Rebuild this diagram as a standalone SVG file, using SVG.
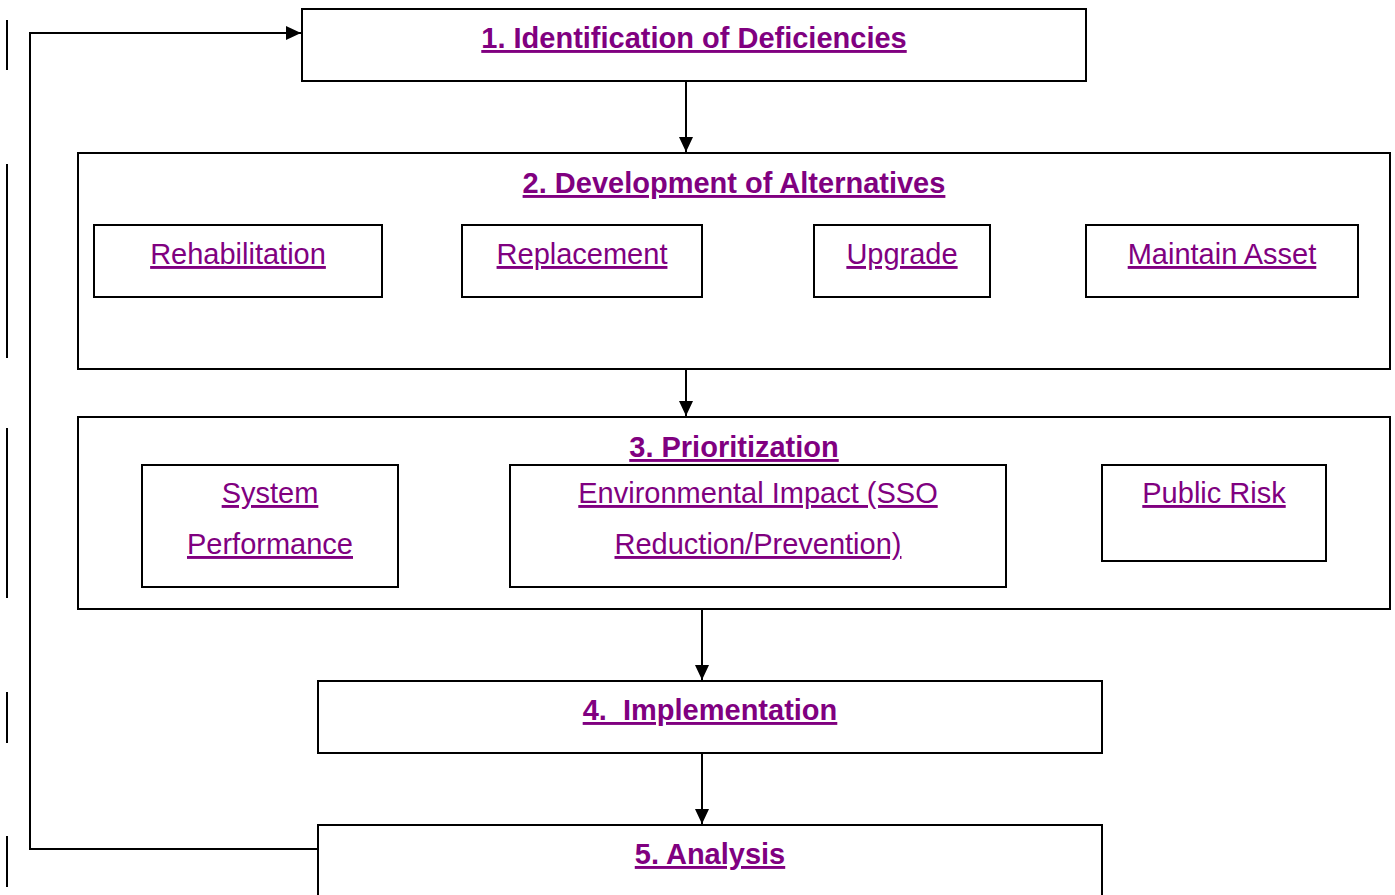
<svg xmlns="http://www.w3.org/2000/svg" width="1395" height="895" viewBox="0 0 1395 895">
<style>
.box{fill:#fff;stroke:#000;stroke-width:2}
.t{font-family:"Liberation Sans",Arial,sans-serif;font-size:29px;fill:#800080;text-decoration:underline;text-anchor:middle;white-space:pre}
.b{font-weight:bold}
.c{fill:none;stroke:#000;stroke-width:2}
.bar{stroke:#000;stroke-width:2}
</style>
<defs>
<marker id="ah" viewBox="0 0 15 14" refX="15" refY="7" markerWidth="15" markerHeight="14" markerUnits="userSpaceOnUse" orient="auto">
<path d="M0,0 L15,7 L0,14 Z" fill="#000"/>
</marker>
</defs>
<rect width="1395" height="895" fill="#fff"/>
<g id="margin-bars">
<line class="bar" x1="7" y1="20" x2="7" y2="70"/>
<line class="bar" x1="7" y1="164" x2="7" y2="358"/>
<line class="bar" x1="7" y1="428" x2="7" y2="598"/>
<line class="bar" x1="7" y1="692" x2="7" y2="743"/>
<line class="bar" x1="7" y1="836" x2="7" y2="887"/>
</g>
<g id="n1">
<rect class="box" x="302" y="9" width="784" height="72"/>
<text class="t b" x="694" y="48">1. Identification of Deficiencies</text>
</g>
<g id="n2">
<rect class="box" x="78" y="153" width="1312" height="216"/>
<text class="t b" x="734" y="193">2. Development of Alternatives</text>
</g>
<g id="n2a"><rect class="box" x="94" y="225" width="288" height="72"/><text class="t" x="238" y="264">Rehabilitation</text></g>
<g id="n2b"><rect class="box" x="462" y="225" width="240" height="72"/><text class="t" x="582" y="264">Replacement</text></g>
<g id="n2c"><rect class="box" x="814" y="225" width="176" height="72"/><text class="t" x="902" y="264">Upgrade</text></g>
<g id="n2d"><rect class="box" x="1086" y="225" width="272" height="72"/><text class="t" x="1222" y="264">Maintain Asset</text></g>
<g id="n3">
<rect class="box" x="78" y="417" width="1312" height="192"/>
<text class="t b" x="734" y="457">3. Prioritization</text>
</g>
<g id="n3a"><rect class="box" x="142" y="465" width="256" height="122"/><text class="t" x="270" y="503">System</text><text class="t" x="270" y="554">Performance</text></g>
<g id="n3b"><rect class="box" x="510" y="465" width="496" height="122"/><text class="t" x="758" y="503">Environmental Impact (SSO</text><text class="t" x="758" y="554">Reduction/Prevention)</text></g>
<g id="n3c"><rect class="box" x="1102" y="465" width="224" height="96"/><text class="t" x="1214" y="503">Public Risk</text></g>
<g id="n4">
<rect class="box" x="318" y="681" width="784" height="72"/>
<text class="t b" x="710" y="720">4.  Implementation</text>
</g>
<g id="n5">
<rect class="box" x="318" y="825" width="784" height="90"/>
<text class="t b" x="710" y="864">5. Analysis</text>
</g>
<g id="connectors">
<line class="c" x1="686" y1="81" x2="686" y2="152" marker-end="url(#ah)"/>
<line class="c" x1="686" y1="369" x2="686" y2="416" marker-end="url(#ah)"/>
<line class="c" x1="702" y1="609" x2="702" y2="680" marker-end="url(#ah)"/>
<line class="c" x1="702" y1="753" x2="702" y2="824" marker-end="url(#ah)"/>
<polyline class="c" points="318,849 30,849 30,33 301,33" marker-end="url(#ah)"/>
</g>
</svg>
